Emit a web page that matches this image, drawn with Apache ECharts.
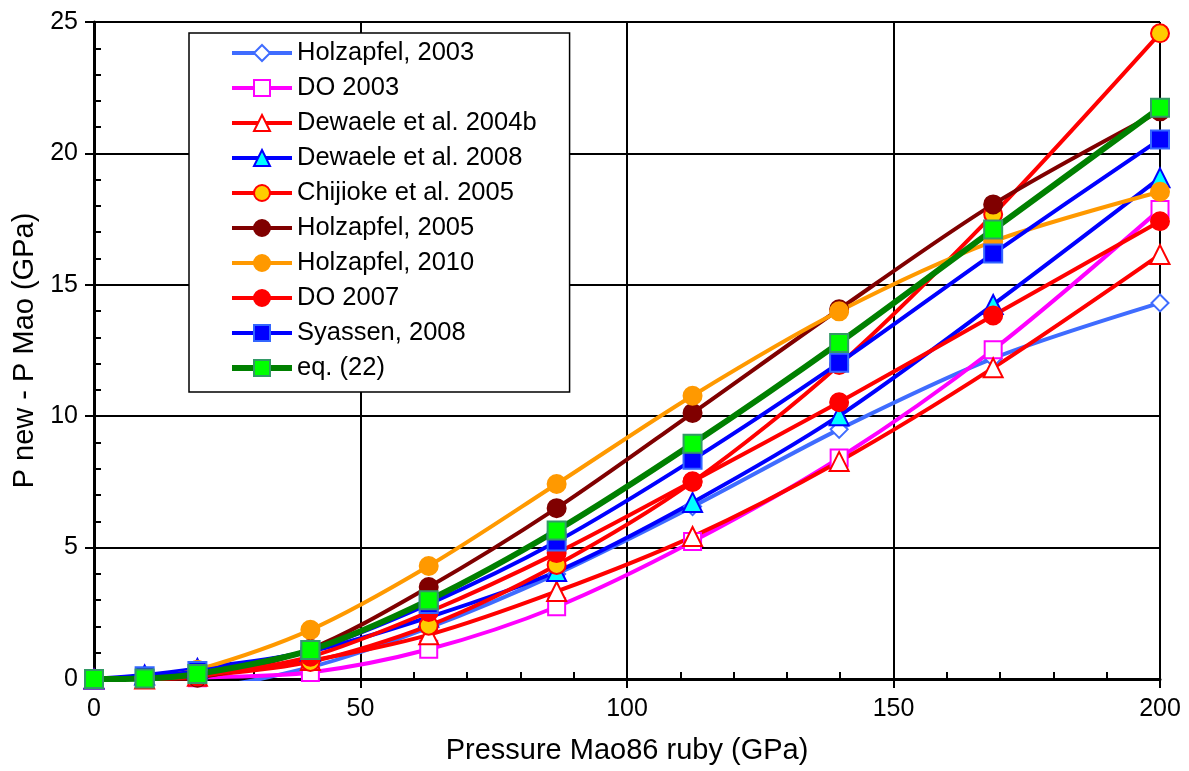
<!DOCTYPE html>
<html>
<head>
<meta charset="utf-8">
<script src="https://cdn.jsdelivr.net/npm/echarts@6/dist/echarts.min.js"></script>
<style>
html,body{margin:0;padding:0;background:#fff;}
#chart{width:1189px;height:771px;}
</style>
</head>
<body>
<div id="chart"></div>
<script>
const xs = [0, 9.5, 19.4, 40.6, 62.8, 86.8, 112.3, 139.8, 168.7, 200];
const seriesNames = ['Holzapfel, 2003','DO 2003','Dewaele et al. 2004b','Dewaele et al. 2008','Chijioke et al. 2005','Holzapfel, 2005','Holzapfel, 2010','DO 2007','Syassen, 2008','eq. (22)'];
const holz2003     = [0, -0.2, -0.3, 0.45, 1.95, 4.0, 6.56, 9.5, 12.2, 14.31];
const do2003       = [0, 0, 0.05, 0.25, 1.13, 2.75, 5.23, 8.41, 12.53, 17.87];
const dewaele2004b = [0, 0, 0.1, 0.7, 1.68, 3.33, 5.42, 8.28, 11.84, 16.15];
const dewaele2008  = [0, 0.15, 0.4, 1.05, 2.35, 4.09, 6.72, 10.02, 14.25, 19.07];
const chijioke2005 = [0, 0, 0.1, 0.65, 2.03, 4.34, 7.5, 11.95, 17.68, 24.57];
const holz2005     = [0, -0.05, 0.05, 1.15, 3.5, 6.5, 10.12, 14.07, 18.06, 21.6];
const holz2010     = [0, 0.05, 0.35, 1.87, 4.3, 7.42, 10.78, 13.99, 16.65, 18.54];
const do2007       = [0, 0, 0.1, 0.85, 2.55, 4.79, 7.52, 10.53, 13.83, 17.42];
const syassen2008  = [0, 0.1, 0.3, 1.1, 2.85, 5.23, 8.34, 12.03, 16.19, 20.53];
const eq22         = [0, 0.02, 0.19, 1.1, 3.0, 5.65, 8.95, 12.79, 17.1, 21.74];

const FONT = 'Liberation Sans, Arial, sans-serif';
function pts(v){ return xs.map((x,i)=>[x, v[i]]); }

const styles = [
  {data: holz2003, line:'#3f6cff', w:4, sym:'diamond', size:17, fill:'#ffffff', border:'#3f6cff'},
  {data: do2003, line:'#ff00ff', w:4, sym:'rect', size:17, fill:'#ffffff', border:'#ff00ff'},
  {data: dewaele2004b, line:'#ff0000', w:4, sym:'triangle', size:19, fill:'#ffffff', border:'#ff0000'},
  {data: dewaele2008, line:'#0000ff', w:4, sym:'triangle', size:19, fill:'#00ffff', border:'#0000ff'},
  {data: chijioke2005, line:'#ff0000', w:4, sym:'circle', size:18, fill:'#ffcc00', border:'#ff0000'},
  {data: holz2005, line:'#800000', w:4, sym:'circle', size:18, fill:'#800000', border:'#800000'},
  {data: holz2010, line:'#ff9900', w:4, sym:'circle', size:18, fill:'#ff9900', border:'#ff9900'},
  {data: do2007, line:'#ff0000', w:4, sym:'circle', size:18, fill:'#ff0000', border:'#ff0000'},
  {data: syassen2008, line:'#0000ff', w:4, sym:'rect', size:18, fill:'#0000ff', border:'#3366ff'},
  {data: eq22, line:'#008000', w:6, sym:'rect', size:18, fill:'#00ff00', border:'#339966'}
];

const series = styles.map((s,i)=>({
  name: seriesNames[i],
  type: 'line',
  xAxisIndex: 0, yAxisIndex: 0,
  data: pts(s.data),
  smooth: 0.3,
  symbol: s.sym,
  symbolSize: s.size,
  showAllSymbol: true,
  lineStyle: {color: s.line, width: s.w},
  itemStyle: {color: s.fill, borderColor: s.border, borderWidth: 2},
  emphasis: {disabled: true},
  animation: false
}));

const gridRect = {left: 94, right: 29, top: 22, bottom: 92};
const chart = echarts.init(document.getElementById('chart'), null, {renderer: 'canvas'});
chart.setOption({
  backgroundColor: '#ffffff',
  animation: false,
  textStyle: {fontFamily: FONT},
  grid: [Object.assign({containLabel: false}, gridRect), Object.assign({containLabel: false}, gridRect)],
  legend: {
    orient: 'vertical',
    left: 189, top: 33,
    itemWidth: 60, itemHeight: 20,
    itemGap: 9,
    padding: [7, 33, 11, 40],
    borderColor: '#000000', borderWidth: 1.5,
    backgroundColor: '#ffffff',
    lineStyle: {width: 'inherit'},
    textStyle: {fontFamily: FONT, fontSize: 25.5, color: '#000'},
    data: seriesNames
  },
  xAxis: [{
    type: 'value', gridIndex: 0, min: 0, max: 200, interval: 50,
    name: 'Pressure Mao86 ruby (GPa)', nameLocation: 'middle', nameGap: 57,
    nameTextStyle: {fontFamily: FONT, fontSize: 29, color: '#000'},
    axisLine: {show: true, onZero: false, lineStyle: {color: '#000', width: 3}},
    axisTick: {show: true, inside: false, length: 9, lineStyle: {color: '#000', width: 2}},
    axisLabel: {fontFamily: FONT, fontSize: 25, color: '#000', margin: 18},
    splitLine: {show: true, lineStyle: {color: '#000', width: 2}}
  }, {
    type: 'value', gridIndex: 1, min: 0, max: 200, interval: 50,
    axisLine: {show: false}, axisLabel: {show: false}, splitLine: {show: false},
    axisTick: {show: false, inside: true},
    minorTick: {show: true, splitNumber: 5, length: 7, lineStyle: {color: '#000', width: 2}}
  }],
  yAxis: [{
    type: 'value', gridIndex: 0, min: 0, max: 25, interval: 5,
    name: 'P new - P Mao (GPa)', nameLocation: 'middle', nameGap: 55, nameRotate: 90,
    nameTextStyle: {fontFamily: FONT, fontSize: 29, color: '#000'},
    axisLine: {show: true, onZero: false, lineStyle: {color: '#000', width: 3}},
    axisTick: {show: true, inside: false, length: 9, lineStyle: {color: '#000', width: 2}},
    axisLabel: {fontFamily: FONT, fontSize: 25, color: '#000', margin: 16},
    splitLine: {show: true, lineStyle: {color: '#000', width: 2}}
  }, {
    type: 'value', gridIndex: 1, min: 0, max: 25, interval: 5,
    axisLine: {show: false}, axisLabel: {show: false}, splitLine: {show: false},
    axisTick: {show: false, inside: true},
    minorTick: {show: true, splitNumber: 5, length: 7, lineStyle: {color: '#000', width: 2}}
  }],
  series: series
});
</script>
</body>
</html>
